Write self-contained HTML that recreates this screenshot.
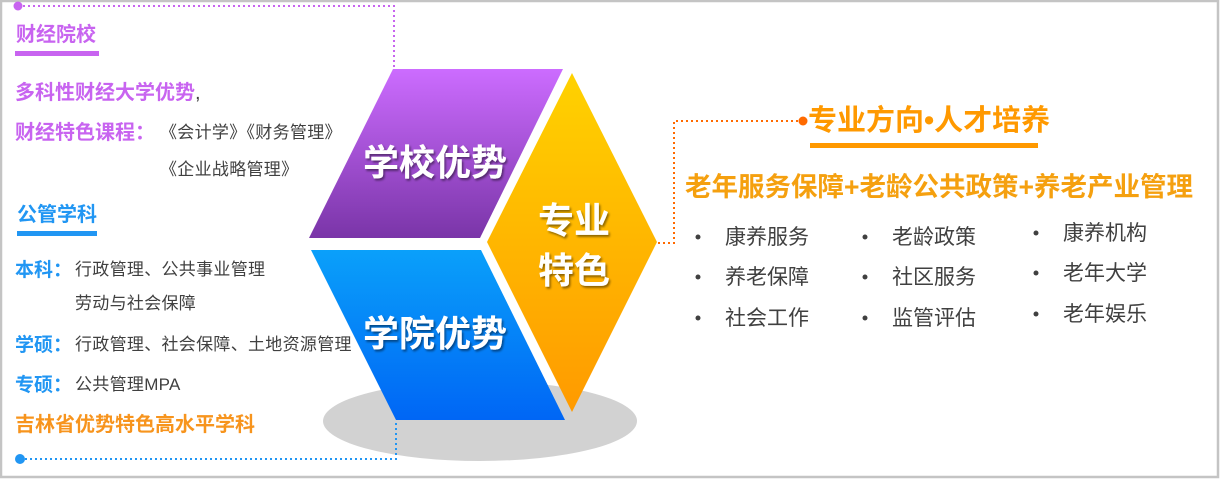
<!DOCTYPE html>
<html><head><meta charset="utf-8"><style>
html,body{margin:0;padding:0;background:#fff}
#c{position:relative;width:1221px;height:480px;overflow:hidden;font-family:"Liberation Sans","Noto Sans CJK SC",sans-serif}
.t{position:absolute;white-space:nowrap;line-height:1}
.g{color:#404040;font-size:17px;letter-spacing:0.3px}
.b{font-weight:bold}
.r{font-size:21px;color:#404040;position:absolute;white-space:nowrap;line-height:1}
</style></head><body><div id="c">
<svg width="1221" height="480" style="position:absolute;left:0;top:0">
<defs>
<linearGradient id="pu" x1="0" y1="0" x2="0" y2="1"><stop offset="0" stop-color="#cc6cff"/><stop offset="1" stop-color="#7a35a8"/></linearGradient>
<linearGradient id="bl" x1="0" y1="0" x2="0" y2="1"><stop offset="0" stop-color="#0aa0fa"/><stop offset="1" stop-color="#0066f5"/></linearGradient>
<linearGradient id="ye" x1="0" y1="0" x2="0" y2="1"><stop offset="0" stop-color="#ffd200"/><stop offset="1" stop-color="#ff9a00"/></linearGradient>
<filter id="sh"><feDropShadow dx="1.5" dy="2" stdDeviation="1" flood-color="#000" flood-opacity="0.45"/></filter>
</defs>
<rect x="1" y="1" width="1217" height="476" fill="none" stroke="#c4c4c4" stroke-width="2.5"/>
<ellipse cx="480" cy="421" rx="157" ry="40" fill="#d2d2d2"/>
<polygon points="393,69 563,69 480,238 309,238" fill="url(#pu)"/>
<polygon points="311,250 481,250 565,420 396,420" fill="url(#bl)"/>
<polygon points="572,73 657,242 572,412 487,242" fill="url(#ye)"/>
<polyline points="18,6 394,6 394,68" fill="none" stroke="#c864f0" stroke-width="2" stroke-dasharray="2,3"/>
<circle cx="18" cy="6" r="4.5" fill="#c864f0"/>
<polyline points="20,459 396,459 396,421" fill="none" stroke="#2196f3" stroke-width="2" stroke-dasharray="2,3"/>
<circle cx="20" cy="459" r="5" fill="#2196f3"/>
<polyline points="658,243 674,243 674,121 800,121" fill="none" stroke="#ff6a00" stroke-width="2" stroke-dasharray="2,3"/>
<circle cx="803" cy="121" r="4.5" fill="#ff6a00"/>
<g font-family="Liberation Sans,Noto Sans CJK SC,sans-serif" font-weight="bold" fill="#fff" filter="url(#sh)">
<text x="435" y="175" font-size="36" text-anchor="middle">学校优势</text>
<text x="435" y="346" font-size="36" text-anchor="middle">学院优势</text>
<text x="574" y="233" font-size="36" text-anchor="middle">专业</text>
<text x="574" y="283" font-size="36" text-anchor="middle">特色</text>
</g>
<rect x="15" y="51" width="84" height="5" fill="#c864f0"/>
<rect x="17" y="231" width="80" height="5" fill="#2196f3"/>
<rect x="810" y="143" width="228" height="5" fill="#ff9900"/>
<g fill="#404040"><circle cx="698" cy="237" r="2.5"/><circle cx="698" cy="277" r="2.5"/><circle cx="698" cy="318" r="2.5"/>
<circle cx="865" cy="237" r="2.5"/><circle cx="865" cy="277" r="2.5"/><circle cx="865" cy="318" r="2.5"/>
<circle cx="1036" cy="233" r="2.5"/><circle cx="1036" cy="273" r="2.5"/><circle cx="1036" cy="314" r="2.5"/></g>
</svg>
<div class="t b" style="left:16px;top:25px;font-size:20px;color:#c864f0">财经院校</div>
<div class="t b" style="left:15px;top:83px;font-size:20px;color:#c864f0">多科性财经大学优势<span style="color:#404040;font-weight:normal">,</span></div>
<div class="t b" style="left:15px;top:123px;font-size:20px;color:#c864f0">财经特色课程：</div>
<div class="t g" style="left:160px;top:124px">《会计学》《财务管理》</div>
<div class="t g" style="left:160px;top:161px">《企业战略管理》</div>
<div class="t b" style="left:17px;top:205px;font-size:20px;color:#2196f3">公管学科</div>
<div class="t b" style="left:15px;top:261px;font-size:19px;color:#2196f3">本科：</div>
<div class="t g" style="left:75px;top:261px">行政管理、公共事业管理</div>
<div class="t g" style="left:75px;top:295px">劳动与社会保障</div>
<div class="t b" style="left:15px;top:336px;font-size:19px;color:#2196f3">学硕：</div>
<div class="t g" style="left:75px;top:336px">行政管理、社会保障、土地资源管理</div>
<div class="t b" style="left:15px;top:376px;font-size:19px;color:#2196f3">专硕：</div>
<div class="t g" style="left:75px;top:376px">公共管理MPA</div>
<div class="t b" style="left:15px;top:415px;font-size:20px;color:#f7941d">吉林省优势特色高水平学科</div>
<div class="t b" style="left:808px;top:107px;font-size:29px;color:#ff9900">专业方向•人才培养</div>
<div class="t b" style="left:685px;top:174px;font-size:26.5px;color:#f5a00f">老年服务保障+老龄公共政策+养老产业管理</div>
<div class="r" style="left:725px;top:227px">康养服务</div>
<div class="r" style="left:725px;top:267px">养老保障</div>
<div class="r" style="left:725px;top:308px">社会工作</div>
<div class="r" style="left:892px;top:227px">老龄政策</div>
<div class="r" style="left:892px;top:267px">社区服务</div>
<div class="r" style="left:892px;top:308px">监管评估</div>
<div class="r" style="left:1063px;top:223px">康养机构</div>
<div class="r" style="left:1063px;top:263px">老年大学</div>
<div class="r" style="left:1063px;top:304px">老年娱乐</div>
</div></body></html>
